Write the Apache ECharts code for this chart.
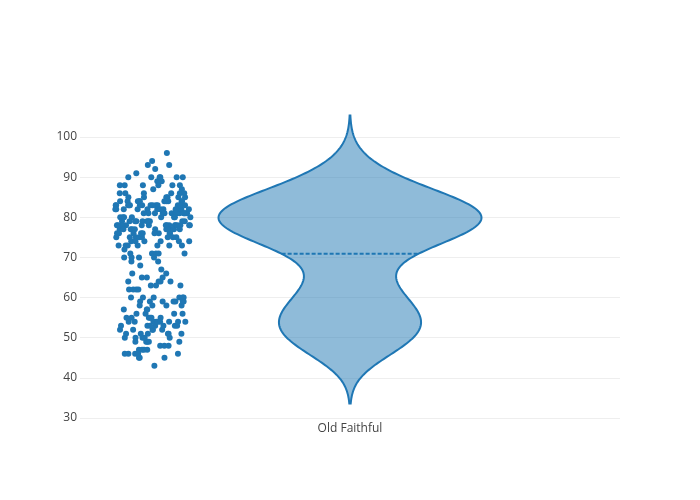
<!DOCTYPE html>
<html>
<head>
<meta charset="utf-8">
<script src="https://cdn.jsdelivr.net/npm/echarts@6/dist/echarts.min.js"></script>
<style>html,body{margin:0;padding:0;background:#fff}#c{width:700px;height:500px}</style>
</head>
<body>
<div id="c"></div>
<script>
// ---- data ----
var categories = ['Old Faithful'];
var yTicks = [30, 40, 50, 60, 70, 80, 90, 100];
var waiting = [
79,54,74,62,85,55,88,85,51,85,54,84,78,47,83,52,62,84,52,79,51,47,78,69,74,
83,55,76,78,79,73,77,66,80,74,52,48,80,59,90,80,58,84,58,73,83,64,53,82,59,
75,90,54,80,54,83,71,64,77,81,59,84,48,82,60,92,78,78,65,73,82,56,79,71,62,
76,60,78,76,83,75,82,70,65,73,88,76,80,48,86,60,90,50,78,63,72,84,75,51,82,
62,88,49,83,81,47,84,52,86,81,75,59,89,79,59,81,50,85,59,87,53,69,77,56,88,
81,45,82,55,90,45,83,56,89,46,82,51,86,53,79,81,60,82,77,76,59,80,49,96,53,
77,77,65,81,71,70,81,93,53,89,45,86,58,78,66,76,63,88,52,93,49,57,77,68,81,
81,73,50,85,74,55,77,83,83,51,78,84,46,83,55,81,57,76,84,77,81,87,77,51,78,
60,82,91,53,78,46,77,84,49,83,71,80,49,75,64,76,53,94,55,76,50,82,54,75,78,
79,78,78,70,79,70,54,86,50,90,54,54,77,79,64,75,47,86,63,85,82,57,82,67,74,
54,83,73,73,88,80,71,83,56,79,78,84,58,83,43,60,75,81,46,90,46,74
];

// ---- stats / KDE (plotly-style) ----
var n = waiting.length;
var mean = waiting.reduce(function(a,b){return a+b;},0)/n;
var sd = Math.sqrt(waiting.reduce(function(a,b){return a+(b-mean)*(b-mean);},0)/(n-1));
var sorted = waiting.slice().sort(function(a,b){return a-b;});
function quant(p){var h=(n-1)*p, lo=Math.floor(h); return sorted[lo]+(h-lo)*(sorted[Math.min(lo+1,n-1)]-sorted[lo]);}
var iqr = quant(0.75)-quant(0.25);
var bw = 1.059*Math.min(sd, iqr/1.349)*Math.pow(n,-0.2);
function kde(v){var s=0;for(var i=0;i<n;i++){var z=(v-waiting[i])/bw;s+=Math.exp(-0.5*z*z);}return s/(n*bw*Math.sqrt(2*Math.PI));}
var vMin = sorted[0]-2*bw, vMax = sorted[n-1]+2*bw;
var STEPS = 240, dens = [], dMax = 0;
for (var k=0;k<=STEPS;k++){var v=vMin+(vMax-vMin)*k/STEPS;var d=kde(v);dens.push([v,d]);if(d>dMax)dMax=d;}

var xc = 0, halfW = 0.487, ptsC = -0.73, ptsHalf = 0.148;
var pts = waiting.map(function(w,i){
  var u = ((i*0.6180339887+0.37)%1) - 0.5;
  var f = Math.pow(kde(w)/dMax, 0.3);
  return [ptsC + 2*u*ptsHalf*f, w];
});

var chart = echarts.init(document.getElementById('c'), null, {renderer:'canvas'});
var font = '"Open Sans", "Noto Sans", sans-serif';
chart.setOption({
  animation:false,
  backgroundColor:'#fff',
  grid:{left:80,right:80,top:137,bottom:82},
  xAxis:{type:'value',min:-1,max:1,interval:1,
    axisLine:{show:false},axisTick:{show:false},splitLine:{show:false},
    axisLabel:{margin:5,color:'#444',fontSize:12,fontFamily:font,
      formatter:function(v){return v===0?categories[0]:'';}}},
  yAxis:{type:'value',min:yTicks[0],max:yTicks[yTicks.length-1],interval:10,
    axisLine:{show:false},axisTick:{show:false},
    splitLine:{lineStyle:{color:'#eee',width:1}},
    axisLabel:{margin:3,color:'#444',fontSize:12,fontFamily:font}},
  series:[
    {type:'custom',clip:false,data:[[0]],z:2,
     renderItem:function(params,api){
       var right=[],left=[];
       for(var k=0;k<dens.length;k++){
         var w=dens[k][1]/dMax*halfW;
         right.push(api.coord([xc+w,dens[k][0]]));
         left.push(api.coord([xc-w,dens[k][0]]));
       }
       var poly=right.concat(left.reverse());
       var mw=kde(mean)/dMax*halfW;
       var a=api.coord([xc-mw,mean]), b=api.coord([xc+mw,mean]);
       return {type:'group',children:[
         {type:'polygon',shape:{points:poly},style:{fill:'rgba(31,119,180,0.5)',stroke:'#1f77b4',lineWidth:2}},
         {type:'line',shape:{x1:a[0],y1:a[1],x2:b[0],y2:b[1]},style:{stroke:'#1f77b4',lineWidth:2,lineDash:[4,2]}}
       ]};
     }},
    {type:'scatter',data:pts,symbolSize:6,z:3,itemStyle:{color:'#1f77b4',opacity:1}}
  ]
});
</script>
</body>
</html>
